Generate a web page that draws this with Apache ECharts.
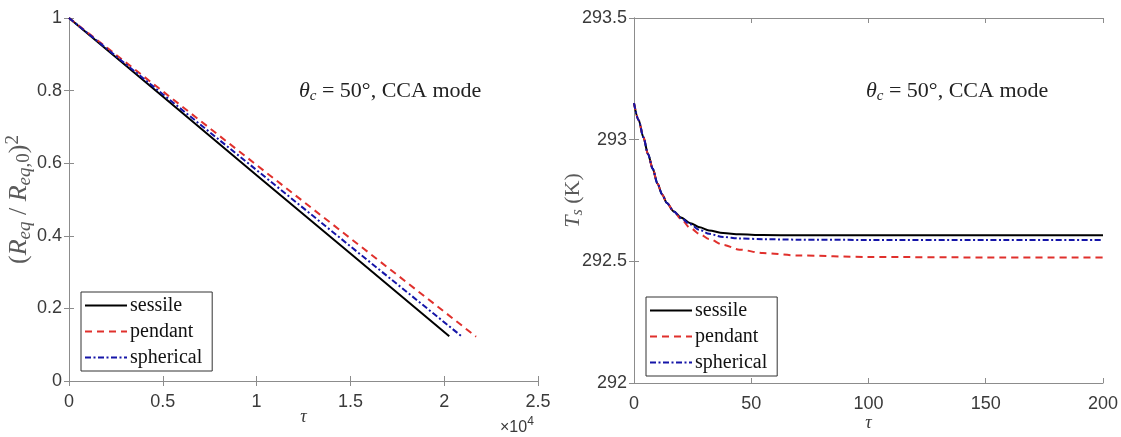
<!DOCTYPE html>
<html lang="en">
<head>
    <meta charset="UTF-8">
    <title>Droplet evaporation</title>
    <style>
        body { margin: 0; background: #fff; }
        #main { width: 1121px; height: 437px; }
    </style>
</head>
<body>
    <div id="main"></div>
</body>
<script src="https://cdn.jsdelivr.net/npm/echarts@6/dist/echarts.min.js"></script>
<script>
    // left panel: (R_eq/R_eq,0)^2 against tau
    var sessileTau = [0, 5000, 10000, 15000, 20270];
    var sessileR2 = [1, 0.784, 0.567, 0.351, 0.123];
    var pendantTau = [0, 5000, 10000, 15000, 20000, 21700];
    var pendantR2 = [1, 0.798, 0.595, 0.393, 0.191, 0.122];
    var sphericalTau = [0, 5000, 10000, 15000, 20000, 20930];
    var sphericalR2 = [1, 0.790, 0.581, 0.371, 0.162, 0.123];

    // right panel: T_s (K) against tau
    var tauRight = [0, 2, 4, 6, 8, 10, 12, 14, 17, 20, 24, 28, 32, 38, 45, 55, 70, 100, 150, 200];
    var sessileT = [293.150, 293.08, 293.01, 292.94, 292.88, 292.82, 292.775, 292.74, 292.705, 292.68, 292.657, 292.64, 292.627, 292.616, 292.611, 292.608, 292.607, 292.607, 292.607, 292.607];
    var pendantT = [293.150, 293.08, 293.01, 292.94, 292.88, 292.82, 292.775, 292.74, 292.705, 292.674, 292.637, 292.612, 292.592, 292.568, 292.548, 292.534, 292.524, 292.518, 292.516, 292.516];
    var sphericalT = [293.150, 293.08, 293.01, 292.94, 292.88, 292.82, 292.775, 292.74, 292.705, 292.678, 292.652, 292.629, 292.613, 292.600, 292.594, 292.591, 292.589, 292.588, 292.588, 292.588];

    var leftXTicks = ['0', '0.5', '1', '1.5', '2', '2.5'];
    var seriesNames = ['sessile', 'pendant', 'spherical'];

    var sansFont = '"Liberation Sans", Arial, sans-serif';
    var serifFont = '"Liberation Serif", "DejaVu Serif", serif';
    var axisGrey = '#8c8c8c';
    var labelGrey = '#3a3a3a';

    var styles = {
        sessile: { color: '#000000', type: 'solid' },
        pendant: { color: '#e0302c', type: [7, 5] },
        spherical: { color: '#1515a8', type: [6, 2.5, 2, 2.5] }
    };

    function zip(xs, ys) {
        var out = [];
        for (var i = 0; i < xs.length; i++) out.push([xs[i], ys[i]]);
        return out;
    }

    function lineSeries(name, data, xi, yi) {
        return {
            name: name,
            type: 'line',
            xAxisIndex: xi,
            yAxisIndex: yi,
            data: data,
            symbol: 'none',
            showSymbol: false,
            smooth: xi == 2 ? 0.3 : false,
            smoothMonotone: 'x',
            lineStyle: { color: styles[name].color, type: styles[name].type, width: 2 },
            itemStyle: { color: styles[name].color },
            z: 3
        };
    }

    function bottomAxis(gi, min, max, interval, gap, fmt) {
        return {
            type: 'value', gridIndex: gi, position: 'bottom', min: min, max: max, interval: interval,
            axisLine: { show: true, lineStyle: { color: axisGrey, width: 1 } },
            axisTick: { show: true, inside: true, length: 5, lineStyle: { color: axisGrey } },
            axisLabel: { color: labelGrey, fontFamily: sansFont, fontSize: 18, margin: 12, formatter: fmt },
            splitLine: { show: false },
            name: 'τ', nameLocation: 'middle', nameGap: gap, nameMoveOverlap: false,
            nameTextStyle: { fontFamily: serifFont, fontStyle: 'italic', fontSize: 18, color: labelGrey }
        };
    }

    function topAxis(gi, min, max, interval) {
        return {
            type: 'value', gridIndex: gi, position: 'top', min: min, max: max, interval: interval,
            axisLine: { show: true, lineStyle: { color: axisGrey, width: 1 } },
            axisTick: { show: true, inside: true, length: 5, lineStyle: { color: axisGrey } },
            axisLabel: { show: false }, splitLine: { show: false }
        };
    }

    function leftAxis(gi, min, max, interval, name, gap, size) {
        var sub = Math.round(size * 0.72);
        return {
            type: 'value', gridIndex: gi, position: 'left', min: min, max: max, interval: interval,
            axisLine: { show: true, lineStyle: { color: axisGrey, width: 1 } },
            axisTick: { show: true, inside: true, length: 5, lineStyle: { color: axisGrey } },
            axisLabel: { color: labelGrey, fontFamily: sansFont, fontSize: 18, margin: 7 },
            splitLine: { show: false },
            name: name, nameLocation: 'middle', nameGap: gap, nameMoveOverlap: false,
            nameTextStyle: {
                fontFamily: serifFont, fontSize: size, color: '#5a5a5a',
                rich: {
                    n: { fontFamily: serifFont, fontSize: size, color: '#5a5a5a', lineHeight: size + 4, verticalAlign: 'middle' },
                    i: { fontFamily: serifFont, fontStyle: 'italic', fontSize: size, color: '#5a5a5a', lineHeight: size + 4, verticalAlign: 'middle' },
                    sub: { fontFamily: serifFont, fontStyle: 'italic', fontSize: sub, color: '#5a5a5a', lineHeight: sub, verticalAlign: 'bottom' },
                    subn: { fontFamily: serifFont, fontSize: sub, color: '#5a5a5a', lineHeight: sub, verticalAlign: 'bottom' },
                    sup: { fontFamily: serifFont, fontSize: sub, color: '#5a5a5a', lineHeight: sub, verticalAlign: 'top' }
                }
            }
        };
    }

    function rightAxis(gi, min, max, interval) {
        return {
            type: 'value', gridIndex: gi, position: 'right', min: min, max: max, interval: interval,
            axisLine: { show: true, lineStyle: { color: axisGrey, width: 1 } },
            axisTick: { show: true, inside: true, length: 5, lineStyle: { color: axisGrey } },
            axisLabel: { show: false }, splitLine: { show: false }
        };
    }

    function legendAt(left, top) {
        return {
            data: seriesNames,
            orient: 'vertical',
            left: left, top: top,
            backgroundColor: '#fff',
            borderColor: '#333', borderWidth: 1,
            padding: [3, 10, 3, 3],
            itemWidth: 42, itemHeight: 14, itemGap: 5,
            selectedMode: false,
            itemStyle: { opacity: 0 },
            textStyle: { fontFamily: serifFont, fontSize: 20, color: '#111', lineHeight: 21, padding: [0, 0, 0, -2] }
        };
    }

    var annotation = '{i|θ}{sub|c}{n| = 50°, CCA mode}';
    var annRich = {
        n: { fontFamily: serifFont, fontSize: 22, fill: '#222', lineHeight: 26, verticalAlign: 'middle' },
        i: { fontFamily: serifFont, fontStyle: 'italic', fontSize: 22, fill: '#222', lineHeight: 26, verticalAlign: 'middle' },
        sub: { fontFamily: serifFont, fontStyle: 'italic', fontSize: 15, fill: '#222', lineHeight: 12, verticalAlign: 'bottom' }
    };

    var chartDom = document.getElementById('main');
    var myChart = echarts.init(chartDom);
    var option;

    option = {
        backgroundColor: '#fff',
        animation: false,
        grid: [
            { left: 69, top: 18, width: 469, height: 363 },
            { left: 634, top: 18, width: 470, height: 367 }
        ],
        xAxis: [
            bottomAxis(0, 0, 25000, 5000, 27, function (v) { return leftXTicks[Math.round(v / 5000)]; }),
            topAxis(0, 0, 25000, 5000),
            bottomAxis(1, 0, 200, 50, 31),
            topAxis(1, 0, 200, 50)
        ],
        yAxis: [
            leftAxis(0, 0, 1, 0.2, '{n|(}{i|R}{sub|eq}{n| / }{i|R}{sub|eq}{subn|,0}{n|)}{sup|2}', 35, 26),
            rightAxis(0, 0, 1, 0.2),
            leftAxis(1, 292, 293.5, 0.5, '{i|T}{sub|s}{n| (K)}', 48, 22),
            rightAxis(1, 292, 293.5, 0.5)
        ],
        legend: [legendAt(81, 292), legendAt(646, 297)],
        graphic: [
            { type: 'text', left: 299, top: 80, style: { text: annotation, rich: annRich } },
            { type: 'text', left: 866, top: 80, style: { text: annotation, rich: annRich } },
            {
                type: 'text', left: 500, top: 416,
                style: {
                    text: '{n|×10}{sup|4}',
                    rich: {
                        n: { fontFamily: sansFont, fontSize: 16, fill: labelGrey, lineHeight: 20, verticalAlign: 'bottom' },
                        sup: { fontFamily: sansFont, fontSize: 12, fill: labelGrey, lineHeight: 12, verticalAlign: 'top' }
                    }
                }
            }
        ],
        series: [
            lineSeries('sessile', zip(sessileTau, sessileR2), 0, 0),
            lineSeries('pendant', zip(pendantTau, pendantR2), 0, 0),
            lineSeries('spherical', zip(sphericalTau, sphericalR2), 0, 0),
            lineSeries('sessile', zip(tauRight, sessileT), 2, 2),
            lineSeries('pendant', zip(tauRight, pendantT), 2, 2),
            lineSeries('spherical', zip(tauRight, sphericalT), 2, 2)
        ]
    };

    option && myChart.setOption(option);
</script>
</html>
